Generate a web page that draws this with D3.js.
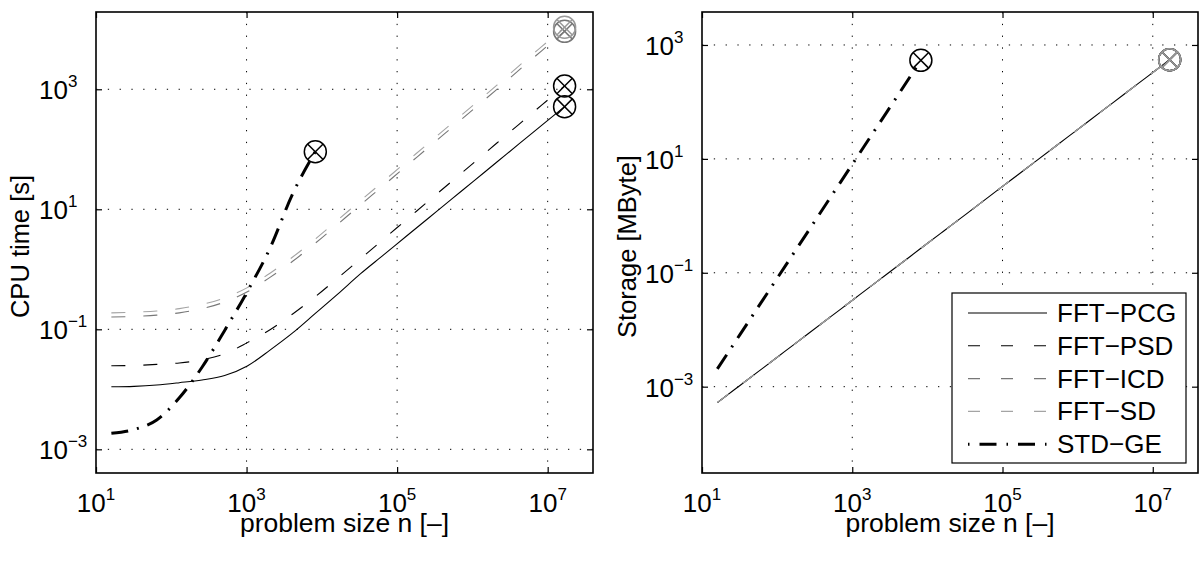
<!DOCTYPE html>
<html>
<head>
<meta charset="utf-8">
<script src="https://cdn.jsdelivr.net/npm/d3@7"></script>
<style>
  body { margin: 0; background: #fff; }
  svg text { font-family: "Liberation Sans", Arial, Helvetica, sans-serif; fill: #000; }
</style>
</head>
<body>
<div id="chart"></div>
<script>
(function(){
// problem sizes n = 2^4 ... 2^24
const nFFT = [16, 32, 64, 128, 256, 512, 1024, 2048, 4096, 8192, 16384, 32768, 65536,
  131072, 262144, 524288, 1048576, 2097152, 4194304, 8388608, 16777216];
const nGE = [16, 32, 64, 128, 256, 512, 1024, 2048, 4096, 8192];

// CPU time [s]
const cpuPCG = [0.011, 0.0112, 0.0118, 0.0129, 0.0143, 0.017, 0.0245, 0.045, 0.087, 0.184,
  0.39, 0.845, 1.72, 3.52, 7.17, 14.6, 29.8, 60.7, 124, 252, 513];
const cpuPSD = [0.0247, 0.025, 0.026, 0.0275, 0.031, 0.039, 0.06, 0.098, 0.18, 0.35,
  0.72, 1.5, 3.16, 6.6, 13.8, 28.8, 60, 126, 263, 550, 1135];
const cpuICD = [0.16, 0.164, 0.172, 0.188, 0.221, 0.285, 0.422, 0.733, 1.36, 2.72,
  5.69, 11.9, 24.8, 51.9, 108, 226, 473, 989, 2110, 4420, 9230];
const cpuSD = [0.188, 0.193, 0.202, 0.221, 0.26, 0.335, 0.495, 0.861, 1.6, 3.2,
  6.68, 14.0, 29.2, 61.0, 127, 266, 556, 1160, 2480, 5190, 10800];
const cpuGE = [0.00185, 0.00214, 0.00308, 0.00721, 0.0233, 0.0959, 0.427, 2.25, 18.1, 91.2];

// Storage [MByte]
const memFFT = [0.000525, 0.00105, 0.0021, 0.0042, 0.0084, 0.0168, 0.0336, 0.0672, 0.134, 0.269,
  0.537, 1.07, 2.15, 4.3, 8.6, 17.2, 34.4, 68.8, 138, 275, 550];
const memGE = [0.00205, 0.0082, 0.0328, 0.131, 0.524, 2.1, 8.39, 33.6, 134, 537];

const names = ["FFT\u2212PCG", "FFT\u2212PSD", "FFT\u2212ICD", "FFT\u2212SD", "STD\u2212GE"];
const xTicks = [1e1, 1e3, 1e5, 1e7];
const yTicks = [1e-3, 1e-1, 1e1, 1e3];

const styles = [
  { color: "#000", width: 1.1, dash: null, mark: "#000" },
  { color: "#000", width: 1.1, dash: "14,18", mark: "#000" },
  { color: "#777", width: 1.1, dash: "14,18", mark: "#777" },
  { color: "#a4a4a4", width: 1.1, dash: "14,18", mark: "#999" },
  { color: "#000", width: 3, dash: "17,9,2,9", mark: "#000" }
];

const W = 1201, H = 562;
const svg = d3.select("#chart").append("svg")
  .attr("width", W).attr("height", H);

function expLabel(sel, e) {
  sel.append("tspan").text("10");
  sel.append("tspan").attr("font-size", 17).attr("dy", -12)
    .text(e < 0 ? "\u2212" + Math.abs(e) : String(e));
}

function panel(box, yDomain, seriesX, seriesY, ylabel, ylabelX, legend) {
  const x = d3.scaleLog().domain([10, 4e7]).range([box.left, box.right]);
  const y = d3.scaleLog().domain(yDomain).range([box.bottom, box.top]);
  const g = svg.append("g");

  // grid
  g.append("g").selectAll("line").data(xTicks.slice(1)).enter().append("line")
    .attr("x1", d => x(d)).attr("x2", d => x(d))
    .attr("y1", box.top).attr("y2", box.bottom)
    .attr("stroke", "#000").attr("stroke-width", 1).attr("stroke-dasharray", "1.3,10.5");
  g.append("g").selectAll("line").data(yTicks).enter().append("line")
    .attr("y1", d => y(d)).attr("y2", d => y(d))
    .attr("x1", box.left).attr("x2", box.right)
    .attr("stroke", "#000").attr("stroke-width", 1).attr("stroke-dasharray", "1.3,10.5");

  // axes with inward ticks on all four sides
  const axB = g.append("g").attr("transform", `translate(0,${box.bottom})`)
    .call(d3.axisBottom(x).tickValues(xTicks).tickSize(-6).tickFormat(() => ""));
  const axT = g.append("g").attr("transform", `translate(0,${box.top})`)
    .call(d3.axisTop(x).tickValues(xTicks).tickSize(-6).tickFormat(() => ""));
  const axL = g.append("g").attr("transform", `translate(${box.left},0)`)
    .call(d3.axisLeft(y).tickValues(yTicks).tickSize(-6).tickFormat(() => ""));
  const axR = g.append("g").attr("transform", `translate(${box.right},0)`)
    .call(d3.axisRight(y).tickValues(yTicks).tickSize(-6).tickFormat(() => ""));
  [axB, axT, axL, axR].forEach(a => {
    a.select(".domain").remove();
    a.selectAll(".tick line").attr("stroke", "#000").attr("stroke-width", 1.2);
  });
  g.append("rect").attr("x", box.left).attr("y", box.top)
    .attr("width", box.right - box.left).attr("height", box.bottom - box.top)
    .attr("fill", "none").attr("stroke", "#000").attr("stroke-width", 1.6);

  // tick labels
  xTicks.forEach(v => {
    const t = g.append("text").attr("x", x(v)).attr("y", box.bottom + 39)
      .attr("text-anchor", "middle").attr("font-size", 26);
    expLabel(t, Math.round(Math.log10(v)));
  });
  yTicks.forEach(v => {
    const t = g.append("text").attr("x", box.left - 57).attr("y", y(v) + 10)
      .attr("font-size", 26);
    expLabel(t, Math.round(Math.log10(v)));
  });

  // axis titles
  g.append("text").attr("x", (box.left + box.right) / 2).attr("y", box.bottom + 59)
    .attr("text-anchor", "middle").attr("font-size", 26.5).text("problem size n [\u2013]");
  g.append("text").attr("transform", `translate(${ylabelX},${(box.top + box.bottom) / 2 + 4}) rotate(-90)`)
    .attr("text-anchor", "middle").attr("font-size", 25.5).text(ylabel);

  // series
  const line = d3.line().curve(d3.curveMonotoneX).x(d => x(d[0])).y(d => y(d[1]));
  seriesY.forEach((vals, i) => {
    const st = styles[i];
    const pts = vals.map((v, j) => [seriesX[i][j], v]);
    g.append("path").datum(pts).attr("d", line)
      .attr("fill", "none").attr("stroke", st.color).attr("stroke-width", st.width)
      .attr("stroke-dasharray", st.dash);
    const last = pts[pts.length - 1];
    const mx = x(last[0]), my = y(last[1]), r = 11, q = r * 0.707;
    const m = g.append("g").attr("stroke", st.mark).attr("stroke-width", 1.5).attr("fill", "none");
    m.append("circle").attr("cx", mx).attr("cy", my).attr("r", r);
    m.append("line").attr("x1", mx - q).attr("y1", my - q).attr("x2", mx + q).attr("y2", my + q);
    m.append("line").attr("x1", mx - q).attr("y1", my + q).attr("x2", mx + q).attr("y2", my - q);
  });

  if (legend) {
    const lg = g.append("g");
    lg.append("rect").attr("x", 952).attr("y", 293).attr("width", 234).attr("height", 170)
      .attr("fill", "#fff").attr("stroke", "#000").attr("stroke-width", 1.2);
    names.forEach((nm, i) => {
      const ry = 313 + i * 32.8, st = styles[i];
      lg.append("line").attr("x1", 968).attr("x2", 1047).attr("y1", ry).attr("y2", ry)
        .attr("stroke", st.color).attr("stroke-width", st.width)
        .attr("stroke-dasharray", i === 4 ? "1.5,10,17,10" : (st.dash ? "12,21" : null));
      lg.append("text").attr("x", 1057).attr("y", ry + 9).attr("font-size", 26).text(nm);
    });
  }
}

panel({ left: 96, right: 593, top: 12, bottom: 473 }, [4.03e-4, 1.94e4],
  [nFFT, nFFT, nFFT, nFFT, nGE], [cpuPCG, cpuPSD, cpuICD, cpuSD, cpuGE],
  "CPU time [s]", 29, false);
panel({ left: 702, right: 1198, top: 12, bottom: 473 }, [3.05e-5, 3793],
  [nFFT, nFFT, nFFT, nFFT, nGE], [memFFT, memFFT, memFFT, memFFT, memGE],
  "Storage [MByte]", 636, true);
})();
</script>
</body>
</html>
